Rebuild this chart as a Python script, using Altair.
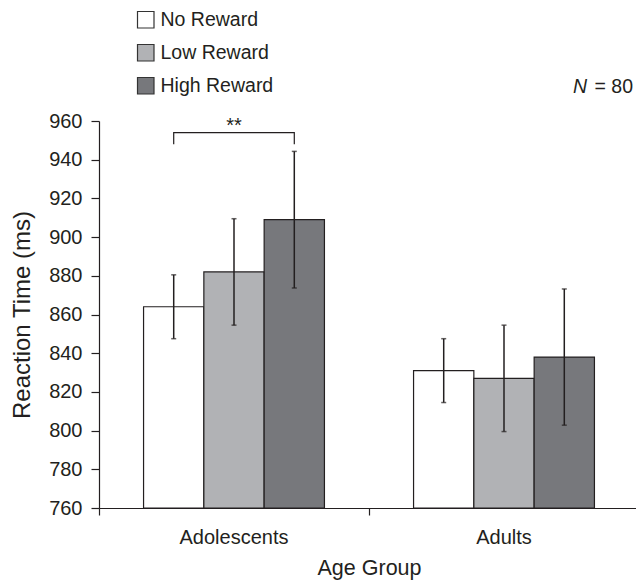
import altair as alt
import pandas as pd

# Mean reaction times (ms) with error-bar half widths per age group and reward condition
groups = ["Adolescents", "Adults"]
conditions = ["No Reward", "Low Reward", "High Reward"]
rt_adolescents = [864, 882, 909]
rt_adults = [831, 827, 838]
err_adolescents = [16.5, 27.5, 35.3]
err_adults = [16.5, 27.5, 35.2]
fills = ["#ffffff", "#b1b2b5", "#77787c"]
y_ticks = [760, 780, 800, 820, 840, 860, 880, 900, 920, 940, 960]

# Significance bracket between No Reward and High Reward (adolescents)
bracket_group = ["Adolescents"] * 4
bracket_cond = ["No Reward", "No Reward", "High Reward", "High Reward"]
bracket_rt = [948, 954, 954, 948]
bracket_step = [0, 1, 2, 3]
star_group = ["Adolescents"]
star_cond = ["Low Reward"]
star_rt = [954]

INK = "#231f20"
FONT = "Liberation Sans"

rows = []
for g, means, errs in [("Adolescents", rt_adolescents, err_adolescents),
                       ("Adults", rt_adults, err_adults)]:
    for c, m, e in zip(conditions, means, errs):
        rows.append({"group": g, "cond": c, "rt": m, "lo": m - e, "hi": m + e})
bars_df = pd.DataFrame(rows)

bracket_df = pd.DataFrame({"group": bracket_group, "cond": bracket_cond,
                           "rt": bracket_rt, "step": bracket_step})
star_df = pd.DataFrame({"group": star_group, "cond": star_cond, "rt": star_rt})

x_axis = alt.Axis(title="Age Group", bandPosition=0, labelAngle=0, tickSize=7,
                  labelPadding=12, labelFontSize=20, titleFontSize=21.5,
                  titlePadding=10)
y_axis = alt.Axis(title="Reaction Time (ms)", values=y_ticks, tickCount=11,
                  labelOverlap=False, tickSize=8, labelPadding=9,
                  labelFontSize=20, titleFontSize=24, titlePadding=14,
                  grid=False)
x_scale = alt.Scale(range=[0, 540], paddingInner=0, paddingOuter=0)
y_scale = alt.Scale(domain=[760, 960], zero=False, nice=False)


def xenc():
    return alt.X("group:N", sort=groups, scale=x_scale, axis=x_axis)


def xoff():
    return alt.XOffset("cond:N", sort=conditions,
                       scale=alt.Scale(domain=conditions, paddingInner=0, paddingOuter=0.739))


def yenc(field):
    return alt.Y(field, scale=y_scale, axis=y_axis)


bars = alt.Chart(bars_df).mark_bar(stroke=INK, strokeWidth=1.2).encode(
    x=xenc(),
    xOffset=xoff(),
    y=yenc("rt:Q"),
    y2=alt.datum(760),
    fill=alt.Fill("cond:N", sort=conditions,
                  scale=alt.Scale(domain=conditions, range=fills),
                  legend=alt.Legend(title=None, orient="none", legendX=37, legendY=-111,
                                    symbolType="square", symbolSize=272,
                                    symbolStrokeColor="#333333", symbolStrokeWidth=1.2,
                                    labelFontSize=19.5, labelOffset=5, rowPadding=11,
                                    padding=0, labelFont=FONT, labelColor=INK)),
)

err_rules = alt.Chart(bars_df).mark_rule(color=INK, strokeWidth=1.5).encode(
    x=xenc(), xOffset=xoff(), y=yenc("lo:Q"), y2="hi:Q")
caps_lo = alt.Chart(bars_df).mark_tick(color=INK, size=5, thickness=1.5).encode(
    x=xenc(), xOffset=xoff(), y=yenc("lo:Q"))
caps_hi = alt.Chart(bars_df).mark_tick(color=INK, size=5, thickness=1.5).encode(
    x=xenc(), xOffset=xoff(), y=yenc("hi:Q"))

bracket = alt.Chart(bracket_df).mark_line(color=INK, strokeWidth=1.2).encode(
    x=xenc(), xOffset=xoff(), y=yenc("rt:Q"), order="step:Q")

stars = alt.Chart(star_df).mark_text(
    text="**", font=FONT, fontSize=20, color=INK, baseline="alphabetic", dy=-1
).encode(x=xenc(), xOffset=xoff(), y=yenc("rt:Q"))

n_italic = alt.Chart(star_df).mark_text(
    text="N", font=FONT, fontSize=19.5, fontStyle="italic", color=INK,
    align="right", baseline="middle"
).encode(x=alt.value(488), y=alt.value(-34))
n_value = alt.Chart(star_df).mark_text(
    text="= 80", font=FONT, fontSize=19.5, color=INK, align="right", baseline="middle"
).encode(x=alt.value(534), y=alt.value(-34))

chart = alt.layer(bars, err_rules, caps_lo, caps_hi, bracket, stars, n_italic, n_value).properties(
    width=537, height=387,
    autosize=alt.AutoSizeParams(type="none"),
    padding={"left": 99, "top": 121, "right": 0, "bottom": 72},
    background="white",
).configure_view(strokeWidth=0).configure_axis(
    labelFont=FONT, titleFont=FONT, labelColor=INK, titleColor=INK,
    titleFontWeight="normal", domainColor=INK, tickColor=INK,
    domainWidth=1.2, tickWidth=1.2,
)

chart.save("out.html", embed_options={"renderer": "svg", "actions": False})
